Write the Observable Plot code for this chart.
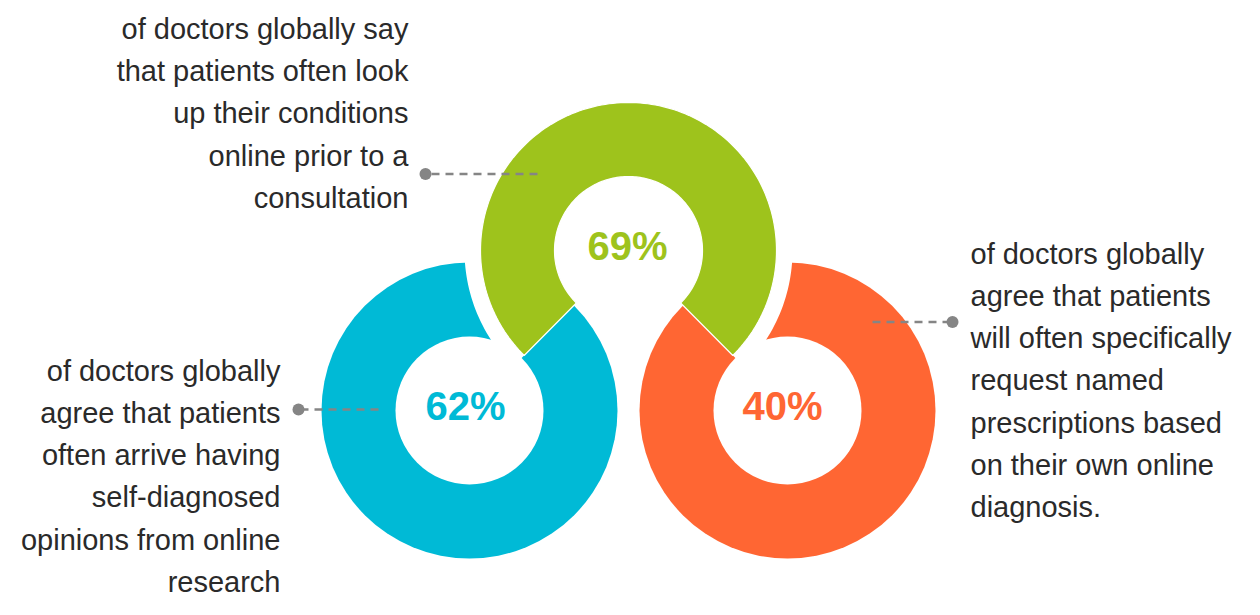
<!DOCTYPE html>
<html>
<head>
<meta charset="utf-8">
<script src="https://cdn.jsdelivr.net/npm/d3@7"></script>
<script src="https://cdn.jsdelivr.net/npm/@observablehq/plot@0.6"></script>
<style>
  html, body { margin: 0; padding: 0; background: #ffffff; }
  #chart svg { display: block; }
</style>
</head>
<body>
<div id="chart"></div>
<script>
// ---------- data ----------
const categories = ["Self-diagnosed opinions", "Condition look-up", "Named prescriptions"];
const values = [62, 69, 40];
const valueLabels = values.map(v => `${v}%`);
const descriptions = [
  "of doctors globally\nagree that patients\noften arrive having\nself-diagnosed\nopinions from online\nresearch",
  "of doctors globally say\nthat patients often look\nup their conditions\nonline prior to a\nconsultation",
  "of doctors globally\nagree that patients\nwill often specifically\nrequest named\nprescriptions based\non their own online\ndiagnosis."
];

// ---------- layout & style (not data) ----------
const W = 1260, H = 615;
const colors = ["#00BAD6", "#9EC31C", "#FF6633"];
const centers = [[469, 410], [628, 250], [787, 410]];
const R_OUT = 148, R_IN = 74, R_HALO = 164;
const labelOffset = [-4, -1, -5];
const descLayout = [
  {x: 280, y: 472.5, anchor: "end"},
  {x: 408, y: 109.5, anchor: "end"},
  {x: 970, y: 376.5, anchor: "start"}
];
const leaders = [
  {x1: 378, x2: 298, y: 409},
  {x1: 537, x2: 425, y: 173.5},
  {x1: 872, x2: 952, y: 321.5}
];

// compass angle (clockwise from 12 o'clock) from one centre to another
const compass = (a, b) => Math.atan2(b[0] - a[0], -(b[1] - a[1]));
const pt = (c, ang, r) => ({x: c[0] + r * Math.sin(ang), y: c[1] - r * Math.cos(ang)});

const gc = centers[1];
let aStart = compass(gc, centers[0]);           // towards left ring
let aEnd = compass(gc, centers[2]);             // towards right ring
if (aStart < 0) aStart += 2 * Math.PI;
if (aEnd < aStart) aEnd += 2 * Math.PI;
const steps = 180;
const angs = d3.range(steps + 1).map(i => aStart + (aEnd - aStart) * i / steps);

const greenSector = [
  ...angs.map(a => pt(gc, a, R_OUT)),
  ...angs.slice().reverse().map(a => pt(gc, a, R_IN))
];
greenSector.push(greenSector[0]);
const halo = [pt(gc, aStart, 0), ...angs.map(a => pt(gc, a, R_HALO)), pt(gc, aStart, 0)];

const rings = categories.map((c, i) => ({
  category: c, value: values[i], label: valueLabels[i],
  x: centers[i][0], y: centers[i][1], color: colors[i], desc: descriptions[i]
}));
const outerRings = [rings[0], rings[2]];

const chart = Plot.plot({
  width: W, height: H,
  margin: 0,
  x: {domain: [0, W], range: [0, W], axis: null},
  y: {domain: [0, H], range: [0, H], axis: null},
  style: {background: "#ffffff", fontFamily: "'Liberation Sans', Arial, sans-serif"},
  marks: [
    // left & right rings
    Plot.dot(outerRings, {x: "x", y: "y", r: R_OUT, fill: d => d.color, stroke: null}),
    Plot.dot(outerRings, {x: "x", y: "y", r: R_IN, fill: "#ffffff", stroke: null}),
    // white halo around the top ring
    Plot.line(halo, {x: "x", y: "y", fill: "#ffffff", stroke: null, curve: "linear"}),
    // top ring sector
    Plot.line(greenSector, {x: "x", y: "y", fill: colors[1], stroke: "#ffffff", strokeWidth: 1.2, curve: "linear"}),
    // leader lines
    Plot.link(rings, {
      x1: (d, i) => leaders[i].x1, x2: (d, i) => leaders[i].x2,
      y1: (d, i) => leaders[i].y, y2: (d, i) => leaders[i].y,
      stroke: "#858585", strokeWidth: 2.4, strokeDasharray: "8,6"
    }),
    Plot.dot(rings, {x: (d, i) => leaders[i].x2, y: (d, i) => leaders[i].y, r: 6, fill: "#858585", stroke: null}),
    // percentage labels
    Plot.text(rings, {
      x: (d, i) => d.x + labelOffset[i], y: "y", dy: -3, text: "label",
      fill: d => d.color, fontSize: 40, fontWeight: "bold", textAnchor: "middle"
    }),
    // descriptions
    Plot.text(rings, {
      x: (d, i) => descLayout[i].x, y: (d, i) => descLayout[i].y, text: "desc",
      textAnchor: "end", lineAnchor: "middle", lineHeight: 1.45,
      fontSize: 29, fill: "#2a2a2a",
      filter: (d, i) => descLayout[i].anchor === "end"
    }),
    Plot.text(rings, {
      x: (d, i) => descLayout[i].x, y: (d, i) => descLayout[i].y, text: "desc",
      textAnchor: "start", lineAnchor: "middle", lineHeight: 1.45,
      fontSize: 29, fill: "#2a2a2a",
      filter: (d, i) => descLayout[i].anchor === "start"
    })
  ]
});
document.getElementById("chart").appendChild(chart);
</script>
</body>
</html>
